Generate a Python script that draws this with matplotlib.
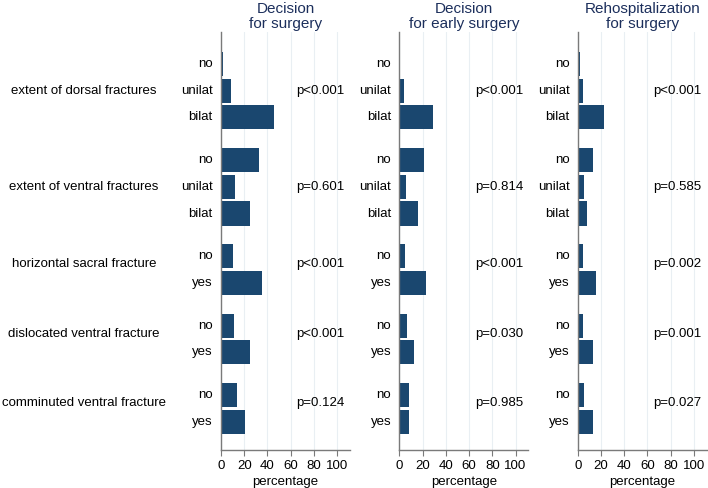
import numpy as np
import matplotlib
matplotlib.use("Agg")
import matplotlib.pyplot as plt

plt.rcParams['font.family'] = ['Liberation Sans', 'DejaVu Sans']

# data
groups = ["extent of dorsal fractures", "extent of ventral fractures",
          "horizontal sacral fracture", "dislocated ventral fracture",
          "comminuted ventral fracture"]
levels = [["no", "unilat", "bilat"], ["no", "unilat", "bilat"],
          ["no", "yes"], ["no", "yes"], ["no", "yes"]]
titles = ["Decision\nfor surgery", "Decision\nfor early surgery",
          "Rehospitalization\nfor surgery"]

surgery = [[1.5, 8.9, 45.4], [32.9, 12.0, 24.6], [10.6, 35.7], [11.4, 24.6], [14.0, 20.9]]
early = [[0.0, 4.0, 28.9], [21.4, 5.7, 16.3], [4.9, 23.1], [6.6, 12.6], [8.6, 8.6]]
rehosp = [[1.7, 4.3, 22.6], [13.4, 5.7, 8.3], [4.9, 15.7], [4.3, 12.9], [5.4, 12.9]]

p_surgery = ["p<0.001", "p=0.601", "p<0.001", "p<0.001", "p=0.124"]
p_early = ["p<0.001", "p=0.814", "p<0.001", "p=0.030", "p=0.985"]
p_rehosp = ["p<0.001", "p=0.585", "p=0.002", "p=0.001", "p=0.027"]

panels = [(surgery, p_surgery), (early, p_early), (rehosp, p_rehosp)]

bar_color = "#1a476f"
title_color = "#1c2f5c"
axis_color = "#7a7a7a"
grid_color = "#e9eff3"
gap = 1.6
fs = 9.5

# y positions of each bar
ypos, centers = [], []
y = 0.0
for lv in levels:
    ys = [y + i for i in range(len(lv))]
    ypos.append(ys)
    centers.append(np.mean(ys))
    y = ys[-1] + gap

fig = plt.figure(figsize=(7.08, 4.88), dpi=100)
lefts = [221 / 708, 399.3 / 708, 577.7 / 708]
width = 129 / 708
bottom = 38 / 488
height = 418 / 488

for k, (vals, pvals) in enumerate(panels):
    ax = fig.add_axes([lefts[k], bottom, width, height])
    for g in range(len(groups)):
        ax.barh(ypos[g], vals[g], height=0.9, color=bar_color, zorder=2)
        for yy, lab in zip(ypos[g], levels[g]):
            ax.text(-7, yy, lab, ha="right", va="center", fontsize=fs)
        off = 0 if len(levels[g]) == 3 else -0.2
        ax.text(65, centers[g] + off, pvals[g], ha="left", va="center", fontsize=fs)
        if k == 0:
            ax.text(-118, centers[g] + off, groups[g], ha="center", va="center",
                    fontsize=fs, clip_on=False)
    ax.set_xlim(0, 111)
    ax.set_ylim(14.46, -1.2)
    ax.set_xticks([0, 20, 40, 60, 80, 100])
    ax.set_yticks([])
    ax.tick_params(axis="x", labelsize=fs, length=4, color=axis_color, pad=3)
    ax.xaxis.grid(True, color=grid_color, lw=0.8, zorder=0)
    ax.set_axisbelow(True)
    for s in ["top", "right"]:
        ax.spines[s].set_visible(False)
    for s in ["left", "bottom"]:
        ax.spines[s].set_color(axis_color)
        ax.spines[s].set_linewidth(1.0)
    ax.set_xlabel("percentage", fontsize=fs, labelpad=3)
    ax.set_title(titles[k], fontsize=11, color=title_color, pad=3, linespacing=1.05)

fig.savefig("out.png", dpi=100)
